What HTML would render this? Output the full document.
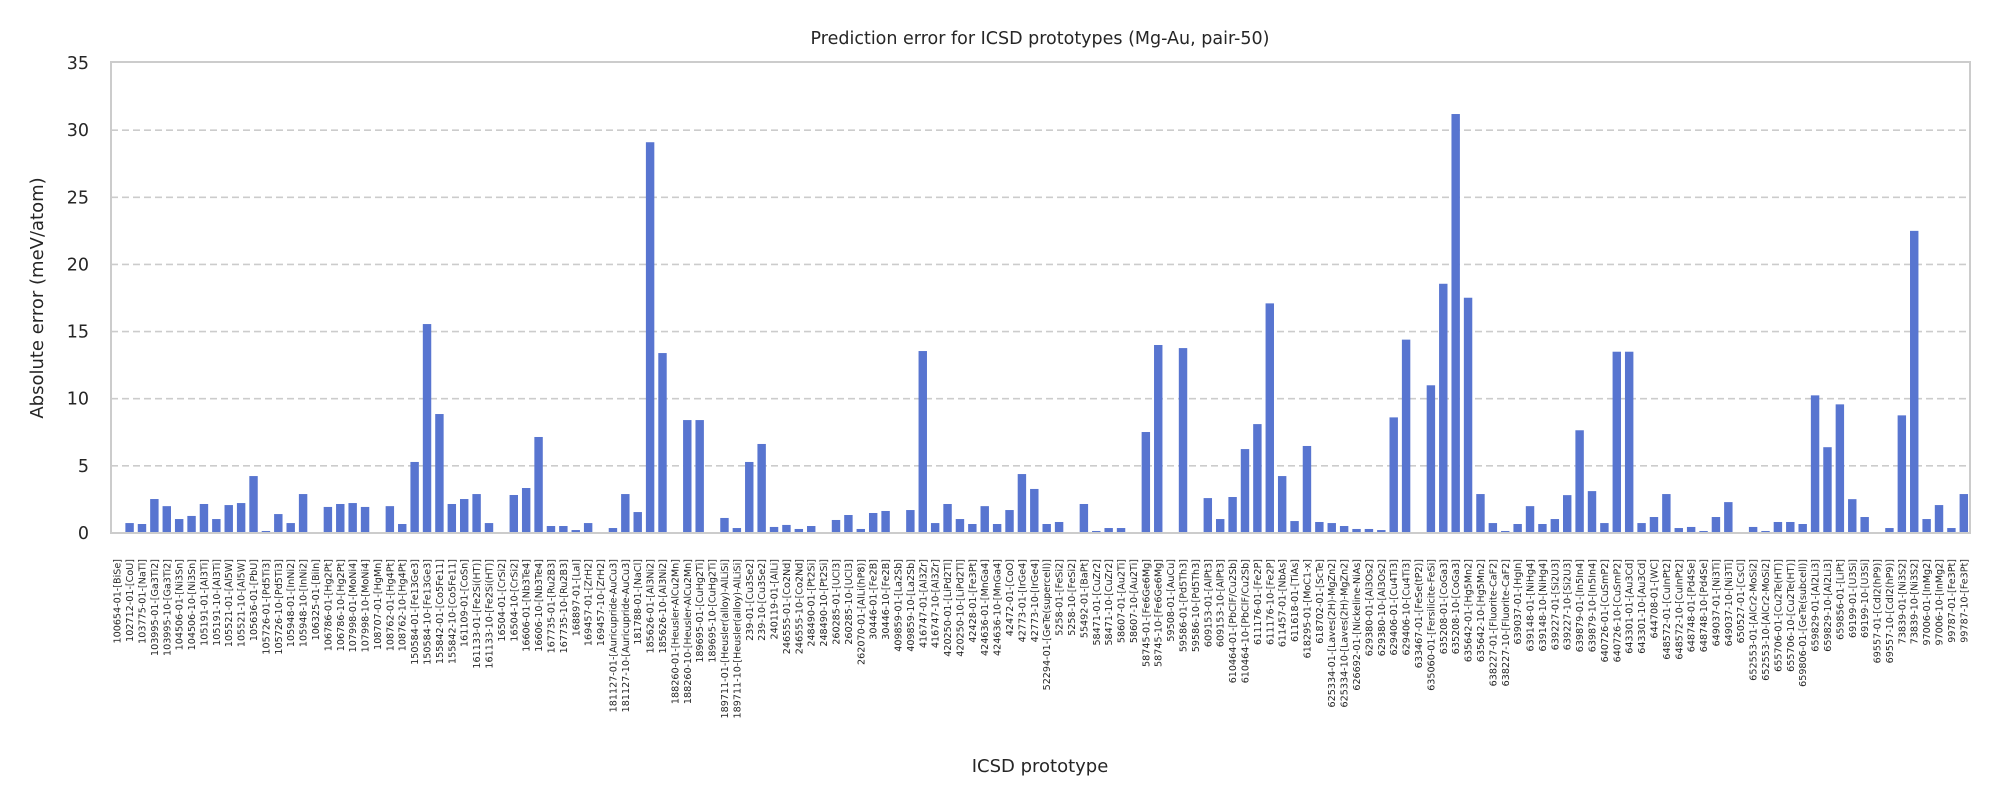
<!DOCTYPE html>
<html><head><meta charset="utf-8"><style>
html,body{margin:0;padding:0;background:#fff;}
svg{display:block;font-family:"DejaVu Sans","Liberation Sans",sans-serif;}
</style></head>
<body>
<svg id="chart" width="2000" height="800" viewBox="0 0 2000 800" xmlns="http://www.w3.org/2000/svg">
<rect width="2000" height="800" fill="#fff"/>
<text x="1040" y="44" font-size="17.5" text-anchor="middle" fill="#262626">Prediction error for ICSD prototypes (Mg-Au, pair-50)</text>
<text transform="translate(43,298) rotate(-90)" font-size="18" text-anchor="middle" fill="#262626">Absolute error (meV/atom)</text>
<text x="1040" y="772" font-size="18" text-anchor="middle" fill="#262626">ICSD prototype</text>
<g id="grid"></g><g id="bars"></g><g id="yticks"></g><g id="xticks"></g>
<rect x="111" y="62" width="1859" height="471" fill="none" stroke="#cccccc" stroke-width="2"/>
</svg>
<script>
const categories = ["100654-01-[BiSe]","102712-01-[CoU]","103775-01-[NaTl]","103995-01-[Ga3Ti2]","103995-10-[Ga3Ti2]","104506-01-[Ni3Sn]","104506-10-[Ni3Sn]","105191-01-[Al3Ti]","105191-10-[Al3Ti]","105521-01-[Al5W]","105521-10-[Al5W]","105636-01-[PbU]","105726-01-[Pd5Ti3]","105726-10-[Pd5Ti3]","105948-01-[InNi2]","105948-10-[InNi2]","106325-01-[BiIn]","106786-01-[Hg2Pt]","106786-10-[Hg2Pt]","107998-01-[MoNi4]","107998-10-[MoNi4]","108707-01-[HgMn]","108762-01-[Hg4Pt]","108762-10-[Hg4Pt]","150584-01-[Fe13Ge3]","150584-10-[Fe13Ge3]","155842-01-[Co5Fe11]","155842-10-[Co5Fe11]","161109-01-[CoSn]","161133-01-[Fe2Si(HT)]","161133-10-[Fe2Si(HT)]","16504-01-[CrSi2]","16504-10-[CrSi2]","16606-01-[Nb3Te4]","16606-10-[Nb3Te4]","167735-01-[Ru2B3]","167735-10-[Ru2B3]","168897-01-[LaI]","169457-01-[ZrH2]","169457-10-[ZrH2]","181127-01-[Auricupride-AuCu3]","181127-10-[Auricupride-AuCu3]","181788-01-[NaCl]","185626-01-[Al3Ni2]","185626-10-[Al3Ni2]","188260-01-[Heusler-AlCu2Mn]","188260-10-[Heusler-AlCu2Mn]","189695-01-[CuHg2Ti]","189695-10-[CuHg2Ti]","189711-01-[Heusler(alloy)-AlLiSi]","189711-10-[Heusler(alloy)-AlLiSi]","239-01-[Cu3Se2]","239-10-[Cu3Se2]","240119-01-[AlLi]","246555-01-[Co2Nd]","246555-10-[Co2Nd]","248490-01-[Pt2Si]","248490-10-[Pt2Si]","260285-01-[UCl3]","260285-10-[UCl3]","262070-01-[AlLi(hP8)]","30446-01-[Fe2B]","30446-10-[Fe2B]","409859-01-[La2Sb]","409859-10-[La2Sb]","416747-01-[Al3Zr]","416747-10-[Al3Zr]","420250-01-[LiPd2Tl]","420250-10-[LiPd2Tl]","42428-01-[Fe3Pt]","424636-01-[MnGa4]","424636-10-[MnGa4]","42472-01-[CoO]","42773-01-[IrGe4]","42773-10-[IrGe4]","52294-01-[GeTe(supercell)]","5258-01-[FeSi2]","5258-10-[FeSi2]","55492-01-[BaPt]","58471-01-[CuZr2]","58471-10-[CuZr2]","58607-01-[Au2Ti]","58607-10-[Au2Ti]","58745-01-[Fe6Ge6Mg]","58745-10-[Fe6Ge6Mg]","59508-01-[AuCu]","59586-01-[Pd5Th3]","59586-10-[Pd5Th3]","609153-01-[AlPt3]","609153-10-[AlPt3]","610464-01-[PbClF/Cu2Sb]","610464-10-[PbClF/Cu2Sb]","611176-01-[Fe2P]","611176-10-[Fe2P]","611457-01-[NbAs]","611618-01-[TiAs]","618295-01-[MoC1-x]","618702-01-[ScTe]","625334-01-[Laves(2H)-MgZn2]","625334-10-[Laves(2H)-MgZn2]","626692-01-[Nickeline-NiAs]","629380-01-[Al3Os2]","629380-10-[Al3Os2]","629406-01-[Cu4Ti3]","629406-10-[Cu4Ti3]","633467-01-[FeSe(tP2)]","635060-01-[Fersilicite-FeSi]","635208-01-[CoGa3]","635208-10-[CoGa3]","635642-01-[Hg5Mn2]","635642-10-[Hg5Mn2]","638227-01-[Fluorite-CaF2]","638227-10-[Fluorite-CaF2]","639037-01-[HgIn]","639148-01-[NiHg4]","639148-10-[NiHg4]","639227-01-[Si2U3]","639227-10-[Si2U3]","639879-01-[In5In4]","639879-10-[In5In4]","640726-01-[CuSmP2]","640726-10-[CuSmP2]","643301-01-[Au3Cd]","643301-10-[Au3Cd]","644708-01-[WC]","648572-01-[CuInPt2]","648572-10-[CuInPt2]","648748-01-[Pd4Se]","648748-10-[Pd4Se]","649037-01-[Ni3Ti]","649037-10-[Ni3Ti]","650527-01-[CsCl]","652553-01-[AlCr2-MoSi2]","652553-10-[AlCr2-MoSi2]","655706-01-[Cu2Te(HT)]","655706-10-[Cu2Te(HT)]","659806-01-[GeTe(subcell)]","659829-01-[Al2Li3]","659829-10-[Al2Li3]","659856-01-[LiPt]","69199-01-[U3Si]","69199-10-[U3Si]","69557-01-[CdI2(hP9)]","69557-10-[CdI2(hP9)]","73839-01-[Ni3S2]","73839-10-[Ni3S2]","97006-01-[InMg2]","97006-10-[InMg2]","99787-01-[Fe3Pt]","99787-10-[Fe3Pt]"];
const errors = [0,0.74,0.67,2.53,2.0,1.04,1.27,2.16,1.04,2.08,2.23,4.24,0.15,1.41,0.74,2.9,0,1.94,2.16,2.23,1.94,0,2.0,0.67,5.29,15.56,8.86,2.16,2.53,2.9,0.74,0,2.83,3.35,7.15,0.52,0.52,0.22,0.74,0,0.37,2.9,1.56,29.1,13.4,0,8.41,8.41,0,1.12,0.37,5.29,6.63,0.45,0.6,0.3,0.52,0,0.97,1.34,0.3,1.49,1.64,0,1.71,13.55,0.74,2.16,1.04,0.67,2.0,0.67,1.71,4.39,3.28,0.67,0.82,0,2.16,0.15,0.37,0.37,0.07,7.52,14.0,0,13.77,0.03,2.6,1.04,2.68,6.25,8.11,17.1,4.24,0.89,6.48,0.82,0.74,0.52,0.3,0.3,0.22,8.61,14.4,0,11.0,18.56,31.2,17.52,2.9,0.74,0.15,0.67,2.0,0.67,1.04,2.82,7.65,3.12,0.74,13.5,13.5,0.74,1.19,2.9,0.37,0.45,0.15,1.19,2.3,0,0.45,0.15,0.82,0.82,0.67,10.25,6.39,9.58,2.52,1.19,0,0.37,8.76,22.5,1.04,2.08,0.37,2.9];
const yTicks = [0,5,10,15,20,25,30,35];

const NS = "http://www.w3.org/2000/svg";
const X0 = 111, X1 = 1970, Y0 = 533, Y1 = 63, YMAX = 35;
const step = (X1 - X0) / categories.length;
function xScale(i){ return X0 + step * (i + 0.5); }
function yScale(v){ return Y0 - (v / YMAX) * (Y0 - Y1); }
function mk(tag, attrs){ const e = document.createElementNS(NS, tag); for (const k in attrs) e.setAttribute(k, attrs[k]); return e; }

const grid = document.getElementById('grid'), yt = document.getElementById('yticks');
yTicks.forEach(t => {
  const y = yScale(t);
  if (t > 0 && t < YMAX) {
    const l = mk('line', {x1:X0, x2:X1, y1:y, y2:y, stroke:'#cccccc', 'stroke-width':1.6, 'stroke-dasharray':'7,4'});
    
    
    grid.appendChild(l);
  }
  const tx = mk('text', {x:89, y:y + 6, 'font-size':17.5, 'text-anchor':'end', fill:'#262626'});
  tx.textContent = t;
  
  
  yt.appendChild(tx);
});

const bars = document.getElementById('bars'), xt = document.getElementById('xticks');
const bw = step * 0.68;
categories.forEach((c, i) => {
  const v = errors[i], x = xScale(i), y = yScale(v);
  const r = mk('rect', {x:x - bw/2, y:y, width:bw, height:Math.max(0, Y0 - y), fill:'#5875d0'});
  
  
  bars.appendChild(r);
  const t = mk('text', {transform:'translate(' + (x + 3.5) + ',559) rotate(-90)', 'font-size':9.6, 'text-anchor':'end', fill:'#262626'});
  t.textContent = c;
  
  
  xt.appendChild(t);
});
</script>
</body></html>
